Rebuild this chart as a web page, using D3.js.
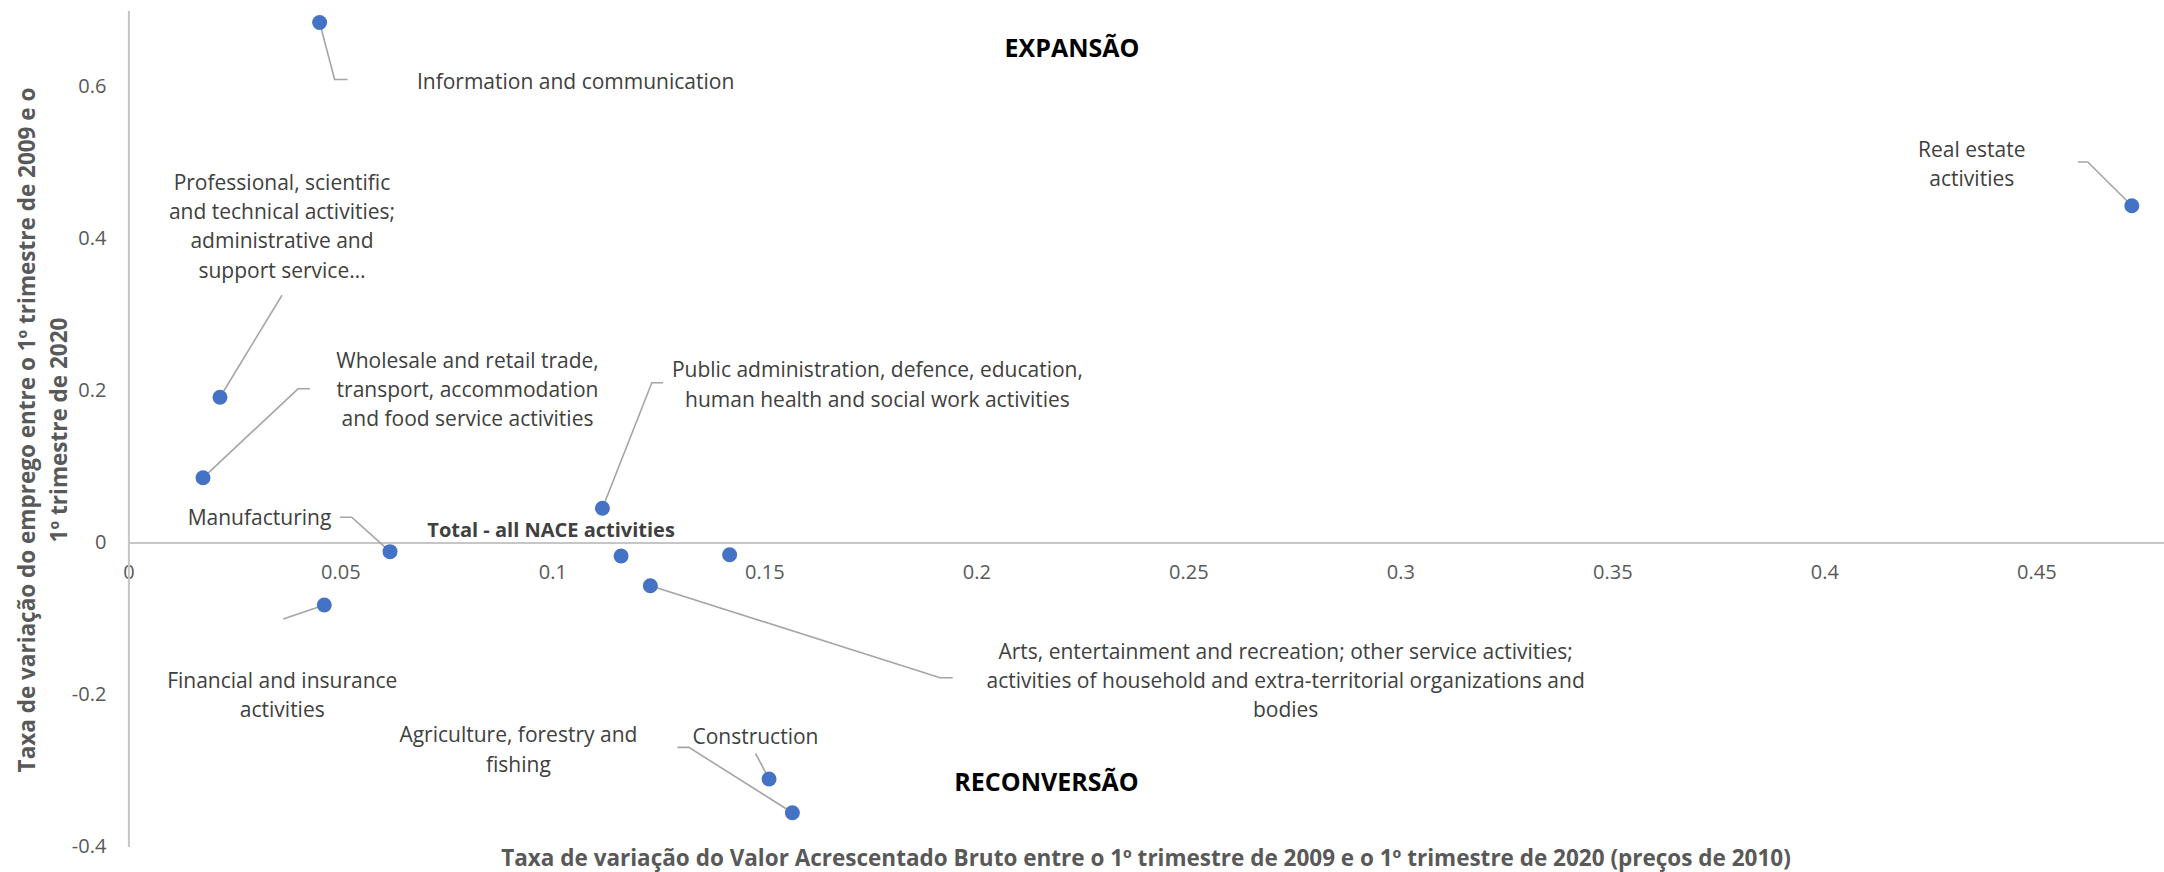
<!DOCTYPE html>
<html>
<head>
<meta charset="utf-8">
<script src="https://cdn.jsdelivr.net/npm/d3@7"></script>
<style>
  html, body { margin: 0; padding: 0; background: #ffffff; }
  svg { display: block; }
  text { font-family: "Open Sans", "DejaVu Sans", sans-serif; }
</style>
</head>
<body>
<svg id="chart" width="2164" height="872"></svg>
<script>
// Sector growth: gross value added (x) vs employment (y), Q1 2009 – Q1 2020
const sectors = [
  "Information and communication",
  "Professional, scientific and technical activities; administrative and support service activities",
  "Wholesale and retail trade, transport, accommodation and food service activities",
  "Public administration, defence, education, human health and social work activities",
  "Manufacturing",
  "Total - all NACE activities",
  "",
  "Financial and insurance activities",
  "Arts, entertainment and recreation; other service activities; activities of household and extra-territorial organizations and bodies",
  "Construction",
  "Agriculture, forestry and fishing",
  "Real estate activities"
];
const gvaChange = [0.0451, 0.0216, 0.0176, 0.1118, 0.0617, 0.1162, 0.1418, 0.0462, 0.1231, 0.1511, 0.1566, 0.4725];
const employmentChange = [0.684, 0.191, 0.085, 0.0449, -0.0122, -0.0179, -0.0162, -0.0824, -0.057, -0.3113, -0.3557, 0.443];

// Label text as broken into lines on the chart
const labelLines = [
  ["Information and communication"],
  ["Professional, scientific", "and technical activities;", "administrative and", "support service…"],
  ["Wholesale and retail trade,", "transport, accommodation", "and food service activities"],
  ["Public administration, defence, education,", "human health and social work activities"],
  ["Manufacturing"],
  ["Total - all NACE activities"],
  [],
  ["Financial and insurance", "activities"],
  ["Arts, entertainment and recreation; other service activities;", "activities of household and extra-territorial organizations and", "bodies"],
  ["Construction"],
  ["Agriculture, forestry and", "fishing"],
  ["Real estate", "activities"]
];

const xTicks = [0, 0.05, 0.1, 0.15, 0.2, 0.25, 0.3, 0.35, 0.4, 0.45];
const yTicks = [-0.4, -0.2, 0, 0.2, 0.4, 0.6];
const xDomain = [0, 0.48];
const yDomain = [-0.4, 0.7];

const xTitle = "Taxa de variação do Valor Acrescentado Bruto entre o 1º trimestre de 2009 e o 1º trimestre de 2020 (preços de 2010)";
const yTitleLines = ["Taxa de variação do emprego entre o 1º trimestre de 2009 e o", "1º trimestre de 2020"];
const quadrantTop = "EXPANSÃO";
const quadrantBottom = "RECONVERSÃO";

// Label placement relative to each point (pixels): text centre of first line,
// and leader line vertices starting at the point
const labelLayout = [
  { dx: 256, dy: 58, leader: [[0, 0], [15, 57], [28, 57]] },
  { dx: 62, dy: -215.5, leader: [[0, 0], [62, -102]] },
  { dx: 264.5, dy: -118, leader: [[0, 0], [95, -89], [107, -89]] },
  { dx: 275, dy: -139, leader: [[0, 0], [49.4, -125.6], [60.6, -125.6]] },
  { dx: -130.5, dy: -34.4, leader: [[0, 0], [-38.3, -34.4], [-50, -34.4]] },
  { dx: -70, dy: -26.7, leader: null, bold: true },
  { dx: 0, dy: 0, leader: null },
  { dx: -42, dy: 75, leader: [[0, 0], [-41, 14]] },
  { dx: 635.3, dy: 65, leader: [[0, 0], [289.7, 92], [302.4, 92]] },
  { dx: -13.6, dy: -43.3, leader: [[0, 0], [-13.6, -25.7]] },
  { dx: -274, dy: -78.4, leader: [[0, 0], [-103.5, -65.4], [-115, -65.4]] },
  { dx: -160, dy: -56.7, leader: [[0, 0], [-44, -43.7], [-54, -43.7]] }
];

const svg = d3.select("#chart");
const x = d3.scaleLinear().domain(xDomain).range([128.4, 2163.6]);
const y = d3.scaleLinear().domain(yDomain).range([846.4, 10.4]);

const axisColor = "#c6c6c6";
const tickColor = "#595959";
const fmt = d => String(+d.toFixed(2));

// X axis through y = 0
const gx = svg.append("g")
  .attr("transform", `translate(0,${y(0)})`)
  .call(d3.axisBottom(x).tickValues(xTicks).tickSize(0).tickPadding(22).tickFormat(fmt));
gx.select(".domain").attr("stroke", axisColor).attr("stroke-width", 2);
gx.selectAll(".tick text")
  .attr("fill", tickColor).style("font-size", "20px").style("font-family", "'Open Sans', sans-serif");

// Y axis through x = 0
const gy = svg.append("g")
  .attr("transform", `translate(${x(0)},0)`)
  .call(d3.axisLeft(y).tickValues(yTicks).tickSize(0).tickPadding(22).tickFormat(fmt));
gy.select(".domain").attr("stroke", axisColor).attr("stroke-width", 2);
gy.selectAll(".tick text")
  .attr("fill", tickColor).style("font-size", "20px").style("font-family", "'Open Sans', sans-serif");

// Axis titles
svg.append("text")
  .attr("x", 1146).attr("y", 857)
  .attr("text-anchor", "middle").attr("dominant-baseline", "central")
  .attr("fill", tickColor).style("font-weight", "bold").style("font-size", "22.5px")
  .text(xTitle);

const yTitle = svg.append("text")
  .attr("transform", "translate(26,430) rotate(-90)")
  .attr("text-anchor", "middle")
  .attr("fill", tickColor).style("font-weight", "bold").style("font-size", "22.5px");
yTitleLines.forEach((t, i) => {
  yTitle.append("tspan").attr("x", 0).attr("y", i * 32).attr("dominant-baseline", "central").text(t);
});

// Quadrant captions
svg.append("text")
  .attr("x", 1072).attr("y", 47)
  .attr("text-anchor", "middle").attr("dominant-baseline", "central")
  .attr("fill", "#000").style("font-weight", "bold").style("font-size", "25px")
  .text(quadrantTop);
svg.append("text")
  .attr("x", 1046.5).attr("y", 781)
  .attr("text-anchor", "middle").attr("dominant-baseline", "central")
  .attr("fill", "#000").style("font-weight", "bold").style("font-size", "25px")
  .text(quadrantBottom);

const points = sectors.map((name, i) => ({
  name, gva: gvaChange[i], emp: employmentChange[i], lines: labelLines[i], layout: labelLayout[i]
}));

// Leader lines
const line = d3.line();
svg.append("g").selectAll("path")
  .data(points.filter(p => p.layout.leader))
  .join("path")
  .attr("d", p => line(p.layout.leader.map(([dx, dy]) => [x(p.gva) + dx, y(p.emp) + dy])))
  .attr("fill", "none").attr("stroke", "#a5a5a5").attr("stroke-width", 1.6);

// Points
svg.append("g").selectAll("circle")
  .data(points)
  .join("circle")
  .attr("cx", p => x(p.gva))
  .attr("cy", p => y(p.emp))
  .attr("r", 7.5)
  .attr("fill", "#4472c4");

// Data labels
const lineHeight = 29.3;
svg.append("g").selectAll("text")
  .data(points.filter(p => p.lines.length))
  .join("text")
  .attr("text-anchor", "middle")
  .attr("fill", "#404040")
  .style("font-size", p => p.layout.bold ? "20px" : "21px")
  .style("font-weight", p => p.layout.bold ? "bold" : "normal")
  .each(function (p) {
    const t = d3.select(this);
    const cx = x(p.gva) + p.layout.dx;
    const cy = y(p.emp) + p.layout.dy;
    p.lines.forEach((s, i) => {
      t.append("tspan").attr("x", cx).attr("y", cy + i * lineHeight)
        .attr("dominant-baseline", "central").text(s);
    });
  });
</script>
</body>
</html>
